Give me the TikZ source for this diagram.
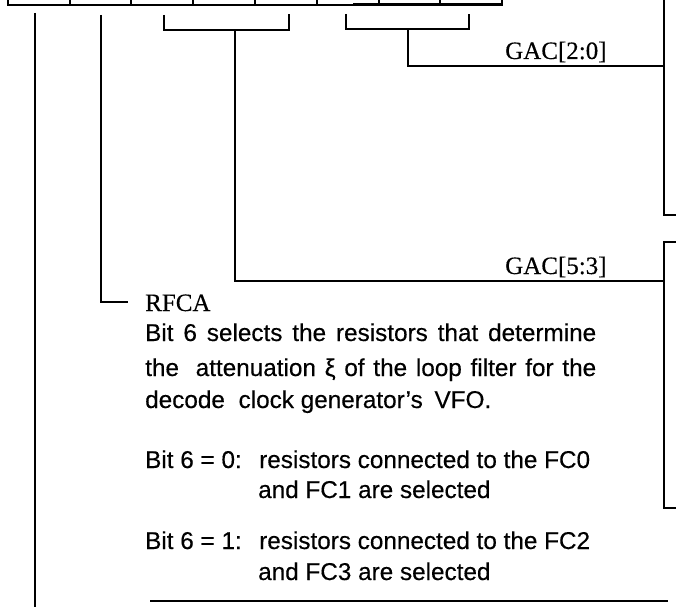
\documentclass[tikz,border=0pt]{standalone}
\usepackage{fontspec}
\setmainfont{Liberation Sans}[FakeBold=0.35]
\newfontfamily\labelfont{Liberation Serif}[FakeBold=0.3]
\begin{document}
\begin{tikzpicture}[x=1pt,y=-1pt,
  wire/.style={line width=1.6pt},
  thickwire/.style={line width=2.4pt},
  lbl/.style={font=\labelfont\fontsize{25}{30}\selectfont, inner sep=0pt, anchor=base west},
  body/.style={font=\fontsize{24.3}{28}\selectfont, inner sep=0pt, anchor=base west}]
\useasboundingbox (0,0) rectangle (676,610);
% register row (cut at the top)
\draw[wire] (8,-10) -- (8,5) -- (502,5) -- (502,-10);
\foreach \x in {70,131,193,255,317,379,440} \draw[wire] (\x,-10) -- (\x,5);
\draw[thickwire] (353,4.5) -- (502,4.5);
% anchor coordinates under the bits
\coordinate (bit7) at (35,13);
\coordinate (bit7end) at (35,607);
\coordinate (bit6) at (101,15);
\coordinate (gacAl) at (164,15);
\coordinate (gacAr) at (289,14);
\coordinate (gacBl) at (346,14);
\coordinate (gacBr) at (469,14);
\coordinate (rtop) at (664,-5);
\coordinate (rmidA) at (664,215);
\coordinate (rmidB) at (664,242);
\coordinate (rbot) at (664,508);
% labels
\node[lbl] (gac20) at (505,59) {GAC[2:0]};
\node[lbl] (gac53) at (505,274) {GAC[5:3]};
\node[lbl] (rfca) at (145,311) {RFCA};
\node[body] (l1) at (145,341) {\makebox[451pt][s]{Bit 6 selects the resistors that determine}};
\node[body] (l2) at (145,376) {\makebox[451pt][s]{the\hspace{8pt} attenuation ξ of the loop filter for the}};
\node[body] (l3) at (145,408) {decode\hspace{7pt} clock generator's\hspace{5pt} VFO.};
\node[body] (z0) at (145,468) {Bit 6 = 0:};
\node[body] (z0t) at (259,468) {resistors connected to the FC0};
\node[body] (z0c) at (258,498) {and FC1 are selected};
\node[body] (z1) at (145,549) {Bit 6 = 1:};
\node[body] (z1t) at (259,549) {resistors connected to the FC2};
\node[body] (z1c) at (258,580) {and FC3 are selected};
\coordinate (rfcaend) at (128,302);
\coordinate (botl) at (150,601);
\coordinate (botr) at (668,601);
% connectors
\draw[wire] (bit7) -- (bit7end);
\draw[wire] (bit6) |- (rfcaend);
\draw[wire] (gacAl) -- (164,30) -- (289,30) -- (gacAr);
\coordinate (stemA) at (235,30);
\draw[wire] (stemA) |- (664,281);
\draw[wire] (gacBl) -- (346,29) -- (469,29) -- (gacBr);
\coordinate (stemB) at (408,29);
\draw[wire] (stemB) |- (664,66);
\draw[wire] (rtop) -- (rmidA) -- (676,215);
\draw[wire] (676,242) -- (rmidB) -- (rbot) -- (676,508);
\draw[thickwire] (botl) -- (botr);
\end{tikzpicture}
\end{document}
